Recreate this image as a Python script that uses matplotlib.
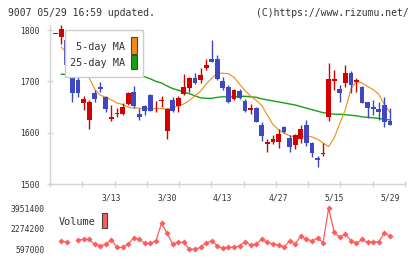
import numpy as np
import matplotlib
matplotlib.use("Agg")
from matplotlib import pyplot as plt
from matplotlib.patches import Rectangle

W, H = 420, 259

dates = ["2/28",
         "3/2", "3/3", "3/4", "3/5", "3/6", "3/9", "3/10", "3/11", "3/12", "3/13",
         "3/16", "3/17", "3/18", "3/19", "3/23", "3/24", "3/25", "3/26", "3/27",
         "3/30", "3/31", "4/1", "4/2", "4/3", "4/6", "4/7", "4/8", "4/9", "4/10",
         "4/13", "4/14", "4/15", "4/16", "4/17", "4/20", "4/21", "4/22", "4/23", "4/24",
         "4/27", "4/28", "4/30", "5/1", "5/7", "5/8", "5/11", "5/12", "5/13", "5/14",
         "5/15", "5/18", "5/19", "5/20", "5/21", "5/22", "5/25", "5/26", "5/27", "5/28",
         "5/29"]
label_dates = ["3/13", "3/30", "4/13", "4/27", "5/15", "5/29"]

opens = [1792,
         1787, 1781, 1712, 1703, 1658, 1625, 1678, 1689, 1670, 1626,
         1636, 1636, 1656, 1679, 1636, 1653, 1674, 1657, 1662, 1604,
         1664, 1652, 1676, 1687, 1707, 1703, 1727, 1743, 1743, 1701,
         1690, 1665, 1681, 1662, 1644, 1649, 1615, 1578, 1581, 1582,
         1612, 1589, 1577, 1587, 1615, 1579, 1551, 1558, 1631, 1700,
         1686, 1697, 1716, 1699, 1690, 1659, 1651, 1647, 1654, 1623]
highs = [1792,
         1810, 1782, 1719, 1720, 1672, 1664, 1683, 1699, 1672, 1654,
         1649, 1658, 1679, 1691, 1648, 1655, 1675, 1662, 1671, 1648,
         1670, 1672, 1715, 1709, 1717, 1727, 1743, 1781, 1752, 1708,
         1693, 1685, 1686, 1666, 1656, 1651, 1621, 1587, 1595, 1608,
         1614, 1595, 1597, 1615, 1625, 1582, 1555, 1579, 1735, 1723,
         1693, 1732, 1720, 1706, 1692, 1660, 1664, 1660, 1670, 1648]
lows = [1792,
        1772, 1730, 1660, 1670, 1645, 1608, 1660, 1680, 1640, 1623,
        1631, 1634, 1655, 1649, 1624, 1635, 1643, 1641, 1651, 1587,
        1641, 1641, 1673, 1680, 1695, 1697, 1723, 1738, 1703, 1683,
        1658, 1664, 1665, 1641, 1636, 1620, 1584, 1563, 1578, 1570,
        1599, 1563, 1568, 1580, 1574, 1552, 1534, 1555, 1623, 1684,
        1660, 1690, 1677, 1680, 1657, 1628, 1634, 1625, 1612, 1616]
closes = [1792,
          1803, 1732, 1677, 1678, 1666, 1659, 1666, 1686, 1647, 1631,
          1638, 1651, 1678, 1652, 1631, 1642, 1643, 1658, 1664, 1647,
          1643, 1668, 1689, 1707, 1696, 1713, 1732, 1738, 1704, 1688,
          1660, 1684, 1667, 1643, 1649, 1621, 1594, 1582, 1588, 1598,
          1602, 1573, 1595, 1608, 1580, 1561, 1546, 1560, 1704, 1704,
          1677, 1717, 1693, 1703, 1658, 1649, 1646, 1641, 1621, 1616]

ma5 = [np.nan,
       1767, 1755, 1740, 1727, 1716, 1707, 1685, 1673, 1669, 1664,
       1658, 1655, 1650, 1648, 1648, 1647, 1647, 1647, 1647, 1646,
       1648, 1653, 1656, 1663, 1672, 1681, 1695, 1706, 1716, 1716,
       1715, 1708, 1695, 1682, 1671, 1663, 1653, 1634, 1616, 1606,
       1599, 1594, 1592, 1592, 1594, 1592, 1587, 1580, 1573, 1590,
       1618, 1645, 1685, 1700, 1697, 1690, 1684, 1675, 1655, 1640]
ma25 = [np.nan,
        1714, 1714, 1714, 1713, 1713, 1713, 1713, 1712, 1712, 1712,
        1711, 1711, 1711, 1710, 1710, 1709, 1705, 1700, 1697, 1691,
        1686, 1683, 1679, 1676, 1672, 1668, 1667, 1667, 1669, 1670,
        1670, 1670, 1671, 1671, 1670, 1669, 1666, 1664, 1662, 1660,
        1658, 1656, 1654, 1651, 1648, 1645, 1642, 1639, 1638, 1636,
        1636, 1635, 1634, 1633, 1631, 1630, 1629, 1628, 1626, 1625]

volume = [np.nan,
          1300000, 1170000, np.nan, 1358000, 1415000, 1415000, 1006000, 891000, 1006000, 1358000,
          760000, 760000, 1006000, 1546000, 1415000, 1088000, 1088000, 1300000, 2724000, 1906000,
          1030000, 1170000, 1170000, 597000, 610000, 760000, 1137000, 1276000, 891000, 679000,
          760000, 760000, 867000, 1219000, 949000, 1030000, 1415000, 1170000, 1030000, 949000,
          760000, 1300000, 1030000, 1685000, 1415000, 1300000, 1497000, 1137000, 3951400, 1988000,
          1579000, 1849000, 1300000, 1088000, 1415000, 1170000, 1219000, 1219000, 1906000, 1685000]
vol_ticks = [597000, 2274200, 3951400]

UP = "#d20000"
DOWN = "#3f48c0"
ORANGE = "#f08c10"
GREEN = "#14a014"
VOLC = "#ff5c5c"
GRID = "#d4d4d4"
TXT = "#333333"
MONO = "DejaVu Sans Mono"


def fx(x):
    return x / W


def fy(y):
    return 1 - y / H


fig = plt.figure(figsize=(W / 100, H / 100), dpi=100)
fig.patch.set_facecolor("white")

x = np.arange(len(dates))
o = np.array(opens, dtype=float)
c = np.array(closes, dtype=float)
hi = np.array(highs, dtype=float)
lo = np.array(lows, dtype=float)
cols = [UP if cc >= oo else DOWN for oo, cc in zip(o, c)]

xlim = (-1.03, 62.71)

# price panel
ax = fig.add_axes([fx(50), fy(184), fx(405) - fx(50), fy(25) - fy(184)])
ax.plot(x, ma25, color=GREEN, lw=1.0, zorder=1)
ax.plot(x, ma5, color=ORANGE, lw=0.8, zorder=1)
ax.vlines(x, lo, hi, colors=cols, lw=1.0, zorder=2)
body = np.maximum(np.abs(c - o), 1.8)
ax.bar(x, body, bottom=np.minimum(o, c), width=0.86, color=cols, lw=0, zorder=3)

ax.set_xlim(*xlim)
ax.set_ylim(1500, 1810)
for s in ["top", "right"]:
    ax.spines[s].set_visible(False)
for s in ["left", "bottom"]:
    ax.spines[s].set_color(GRID)
    ax.spines[s].set_linewidth(1)
ax.set_yticks([1500, 1600, 1700, 1800])
ax.tick_params(axis="y", direction="inout", length=4.5, width=1, color=GRID,
               pad=5.3, labelsize=5.8, labelcolor=TXT)
for t in ax.get_yticklabels():
    t.set_fontfamily(MONO)
ax.set_xticks([dates.index(d) for d in label_dates])
ax.set_xticklabels(label_dates, fontfamily=MONO)
ax.set_xticks(np.linspace(xlim[0], xlim[1], 12), minor=True)
ax.tick_params(axis="x", which="major", length=0, pad=7, labelsize=5.8, labelcolor=TXT)
ax.tick_params(axis="x", which="minor", direction="inout", length=4.8, width=1, color=GRID)

# volume panel
ax2 = fig.add_axes([fx(50), fy(253), fx(405) - fx(50), fy(205) - fy(253)])
ax2.plot(x, volume, color=VOLC, lw=0.9, marker="D", markersize=3.1,
         markeredgewidth=0)
ax2.set_xlim(*xlim)
ax2.set_ylim(294300, 4221400)
for s in ax2.spines.values():
    s.set_visible(False)
ax2.set_xticks([])
ax2.set_yticks(vol_ticks)
ax2.set_yticklabels([str(v) for v in vol_ticks], fontfamily=MONO)
ax2.tick_params(axis="y", length=0, pad=4, labelsize=5.8, labelcolor=TXT)
ax2.patch.set_alpha(0)

# legend boxes
fig.add_artist(Rectangle((fx(65), fy(76.7)), fx(143.3) - fx(65), fy(30) - fy(76.7),
                         transform=fig.transFigure, facecolor="white",
                         edgecolor="#cccccc", lw=1, zorder=10))
fig.text(fx(125), fy(46.7), "5-day MA", ha="right", va="center", fontsize=7.3,
         family=MONO, color=TXT, zorder=11)
fig.text(fx(125), fy(63.3), "25-day MA", ha="right", va="center", fontsize=7.3,
         family=MONO, color=TXT, zorder=11)
fig.add_artist(Rectangle((fx(131), fy(54.3)), fx(137.3) - fx(131), fy(37.3) - fy(54.3),
                         transform=fig.transFigure, facecolor=ORANGE,
                         edgecolor="#444444", lw=0.8, zorder=11))
fig.add_artist(Rectangle((fx(131), fy(69.3)), fx(137.3) - fx(131), fy(55.3) - fy(69.3),
                         transform=fig.transFigure, facecolor=GREEN,
                         edgecolor="#444444", lw=0.8, zorder=11))

fig.text(fx(58.3), fy(222.3), "Volume", ha="left", va="center", fontsize=7.3,
         family=MONO, color=TXT, zorder=11)
fig.add_artist(Rectangle((fx(101.7), fy(228.3)), fx(107.3) - fx(101.7), fy(213.3) - fy(228.3),
                         transform=fig.transFigure, facecolor=VOLC,
                         edgecolor="#444444", lw=0.8, zorder=11))

# header
fig.text(fx(8), fy(12.7), "9007 05/29 16:59 updated.", ha="left", va="center",
         fontsize=7.0, family=MONO, color=TXT)
fig.text(fx(408.3), fy(12.7), "(C)https://www.rizumu.net/", ha="right", va="center",
         fontsize=7.0, family=MONO, color=TXT)

fig.savefig("out.png", dpi=100, facecolor="white")
